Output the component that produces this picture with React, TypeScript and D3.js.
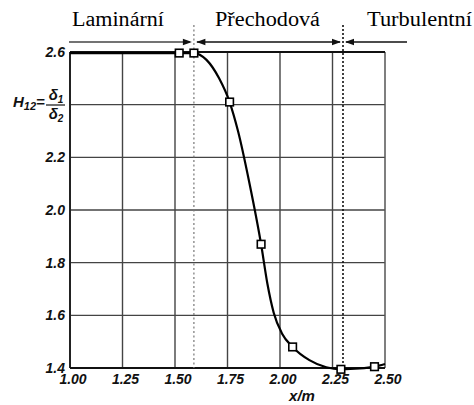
import React from "react";
import * as d3 from "d3";

// Shape factor H12 along the plate, with transition zone boundaries
const xTicks = [1.0, 1.25, 1.5, 1.75, 2.0, 2.25, 2.5];
const yTicks = [1.4, 1.6, 1.8, 2.0, 2.2, 2.4, 2.6];
const yTickLabels = ["1.4", "1.6", "1.8", "2.0", "2.2", "", "2.6"];

// measured points (square markers)
const markerX = [1.52, 1.59, 1.76, 1.91, 2.06, 2.29, 2.45];
const markerY = [2.596, 2.596, 2.41, 1.87, 1.48, 1.395, 1.405];

// smooth fitted curve through the measurements
const curveX = [1.0, 1.52, 1.59, 1.65, 1.71, 1.76, 1.8, 1.855, 1.91, 1.94, 1.97, 2.01, 2.06, 2.14, 2.22, 2.29, 2.38, 2.45, 2.5];
const curveY = [2.596, 2.596, 2.596, 2.57, 2.5, 2.41, 2.3, 2.1, 1.87, 1.72, 1.61, 1.53, 1.48, 1.43, 1.403, 1.395, 1.398, 1.405, 1.415];

// regime boundaries (x/m)
const boundaries = [1.59, 2.3];
const regimeNames = ["Laminární", "Přechodová", "Turbulentní"];

const W = 474;
const H = 405;
const left = 70;
const right = 385;
const top = 52;
const bottom = 368;

export default function App() {
  const x = d3.scaleLinear().domain([1.0, 2.5]).range([left, right]);
  const y = d3.scaleLinear().domain([1.4, 2.6]).range([bottom, top]);

  const line = d3
    .line<number>()
    .x((_, i) => x(curveX[i]))
    .y((d) => y(d))
    .curve(d3.curveMonotoneX);

  const arrowY = 42;
  const b0 = x(boundaries[0]);
  const b1 = x(boundaries[1]);
  const arrowHead = (tip: number, dir: number) =>
    `M${tip},${arrowY} L${tip - dir * 9},${arrowY - 3.2} L${tip - dir * 9},${arrowY + 3.2} Z`;

  const tickFont = {
    fontFamily: "'Liberation Sans', Arial, sans-serif",
    fontStyle: "italic" as const,
    fontWeight: 700,
    fontSize: 14,
    fill: "#111",
  };
  const serif = {
    fontFamily: "'Liberation Serif', 'Times New Roman', serif",
    fontSize: 20,
    fill: "#000",
  };

  return (
    <svg
      width={W}
      height={H}
      viewBox={`0 0 ${W} ${H}`}
      style={{ position: "absolute", left: 0, top: 0, background: "#fff" }}
    >
      {/* grid */}
      {xTicks.slice(1, -1).map((t) => (
        <line key={"gx" + t} x1={x(t)} x2={x(t)} y1={top} y2={bottom} stroke="#444" strokeWidth={1.4} />
      ))}
      {yTicks.slice(1, -1).map((t) => (
        <line key={"gy" + t} x1={left} x2={right} y1={y(t)} y2={y(t)} stroke="#444" strokeWidth={1.4} />
      ))}

      {/* frame */}
      <line x1={right} x2={right} y1={top} y2={bottom} stroke="#555" strokeWidth={1.5} />
      <line x1={left} x2={right} y1={top} y2={top} stroke="#111" strokeWidth={2} />
      <line x1={left} x2={left} y1={top} y2={bottom} stroke="#222" strokeWidth={2} />
      <line x1={left} x2={right} y1={bottom} y2={bottom} stroke="#111" strokeWidth={2} />

      {/* regime boundaries */}
      <line x1={b0} x2={b0} y1={25} y2={bottom} stroke="#777" strokeWidth={1.2} strokeDasharray="2 2.5" />
      <line x1={b1} x2={b1} y1={25} y2={bottom} stroke="#111" strokeWidth={1.6} strokeDasharray="2 2" />

      {/* regime arrows */}
      <line x1={69} x2={b0 - 4} y1={arrowY} y2={arrowY} stroke="#444" strokeWidth={1.6} />
      <line x1={b0 + 3} x2={b1 - 3} y1={arrowY} y2={arrowY} stroke="#111" strokeWidth={1.6} />
      <line x1={b1 + 3} x2={407} y1={arrowY} y2={arrowY} stroke="#111" strokeWidth={1.6} />
      <path d={arrowHead(b0 - 2, 1)} fill="#111" />
      <path d={arrowHead(b0 + 2.5, -1)} fill="#111" />
      <path d={arrowHead(b1 - 2, 1)} fill="#111" />
      <path d={arrowHead(b1 + 2, -1)} fill="#111" />

      <text x={72} y={26} {...serif} textLength={92} lengthAdjust="spacingAndGlyphs">{regimeNames[0]}</text>
      <text x={215} y={26} {...serif} textLength={105} lengthAdjust="spacingAndGlyphs">{regimeNames[1]}</text>
      <text x={367} y={26} {...serif} textLength={105} lengthAdjust="spacingAndGlyphs">{regimeNames[2]}</text>

      {/* curve */}
      <path d={line(curveY) ?? ""} fill="none" stroke="#000" strokeWidth={2.2} />

      {/* markers */}
      {markerX.map((mx, i) => (
        <rect
          key={"m" + i}
          x={x(mx) - 3.8}
          y={y(markerY[i]) - 3.8}
          width={7.6}
          height={7.6}
          fill="#fff"
          stroke="#000"
          strokeWidth={1.6}
        />
      ))}

      {/* y tick labels */}
      {yTicks.map((t, i) =>
        yTickLabels[i] ? (
          <text key={"yl" + t} x={65} y={y(t) + 5} textAnchor="end" {...tickFont}>
            {yTickLabels[i]}
          </text>
        ) : null
      )}

      {/* x tick labels */}
      {xTicks.map((t) => (
        <text key={"xl" + t} x={x(t) + 3} y={384} textAnchor="middle" {...tickFont}>
          {t.toFixed(2)}
        </text>
      ))}
      <text x={302} y={401} textAnchor="middle" {...tickFont} fontWeight={600} fontSize={15}>
        x/m
      </text>

      {/* y axis label: H12 = δ1/δ2 */}
      <text x={13} y={107} {...tickFont} fontWeight={600} fontSize={15}>
        H
        <tspan fontSize={11} dy={3}>12</tspan>
        <tspan dy={-3}>=</tspan>
      </text>
      <text x={56} y={100} textAnchor="middle" {...tickFont} fontWeight={600} fontSize={15}>
        δ<tspan fontSize={10} dy={3}>1</tspan>
      </text>
      <line x1={46} x2={65} y1={105} y2={105} stroke="#222" strokeWidth={1.3} />
      <text x={56} y={119} textAnchor="middle" {...tickFont} fontWeight={600} fontSize={15}>
        δ<tspan fontSize={10} dy={3}>2</tspan>
      </text>
    </svg>
  );
}
